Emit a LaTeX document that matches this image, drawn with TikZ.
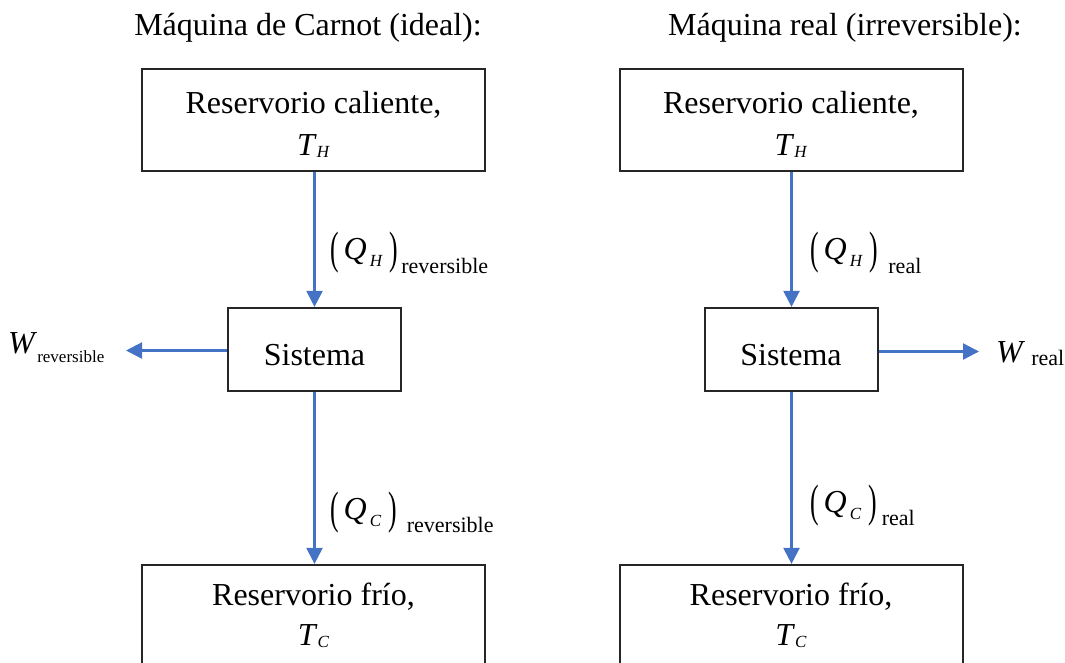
\documentclass[tikz,border=0pt]{standalone}
\usepackage{fontspec}
\setmainfont{Liberation Serif}
\usepackage{graphicx}
\usetikzlibrary{arrows.meta}

\definecolor{flowblue}{HTML}{4472C4}
\definecolor{edgegray}{HTML}{262626}

\newcommand{\mainsz}{\fontsize{32}{38}\selectfont}
\newcommand{\subsz}{\fontsize{17}{20}\selectfont}
\newcommand{\wordsz}{\fontsize{22}{26}\selectfont}

% heat flow label (Q_#1)_#2 ; #3 gap before the word, #4 drop of the word
\newcommand{\heatflux}[4]{%
  \raisebox{-4.5pt}{\scalebox{0.8}[1.42]{(}}\hspace{5pt}%
  \textit{Q}\hspace{3pt}\raisebox{-7pt}{\subsz\textit{#1}}\hspace{7pt}%
  \raisebox{-4.5pt}{\scalebox{0.8}[1.42]{)}}\hspace{#3}%
  \raisebox{-#4}{\wordsz #2}}

\begin{document}
\begin{tikzpicture}[x=1pt,y=-1pt,
  every node/.style={font=\mainsz, inner sep=0pt},
  reservoir/.style={draw=edgegray, line width=2.2pt, minimum width=343pt, minimum height=102pt},
  sysbox/.style={draw=edgegray, line width=2.2pt, minimum width=173pt, minimum height=83pt},
  flow/.style={draw=flowblue, line width=2.2pt, -{Triangle[length=16pt,width=16pt]}},
  txt/.style={anchor=base},
  lab/.style={anchor=base west}]

\clip (0,0) rectangle (1065,662);

% titles
\node[txt] (titleL) at (308,35) {Máquina de Carnot (ideal):};
\node[txt] (titleR) at (845,35) {Máquina real (irreversible):};

% ---------- Carnot engine ----------
\node[reservoir] (hotL) at (313.5,120) {};
\node[txt] (hotLa) at (313.5,113) {Reservorio caliente,};
\node[txt] (hotLb) at (313.5,155) {\textit{T}\raisebox{-2pt}{\subsz\textit{H}}};

\node[sysbox] (sysL) at (314.5,349.5) {};
\node[txt] (sysLt) at (314.5,365) {Sistema};

\node[reservoir] (coldL) at (313.5,616) {};
\node[txt] (coldLa) at (313.5,605) {Reservorio frío,};
\node[txt] (coldLb) at (313.5,645) {\textit{T}\raisebox{-2pt}{\subsz\textit{C}}};

\draw[flow] (hotL.south -| sysL) -- (sysL.north);
\draw[flow] (sysL.south) -- (coldL.north -| sysL);
\coordinate (wL) at (126,350.5);
\draw[flow] (sysL.west |- wL) -- (wL);

\node[lab] (qhL) at (330,259) {\heatflux{H}{reversible}{3pt}{14pt}};
\node[lab] (qcL) at (330,519) {\heatflux{C}{reversible}{10pt}{13pt}};
\node[lab] (wLt) at (8,353) {\textit{W}\raisebox{-9pt}{\subsz reversible}};

% ---------- real engine ----------
\node[reservoir] (hotR) at (791.5,120) {};
\node[txt] (hotRa) at (791,113) {Reservorio caliente,};
\node[txt] (hotRb) at (791,155) {\textit{T}\raisebox{-2pt}{\subsz\textit{H}}};

\node[sysbox] (sysR) at (791.5,349.5) {};
\node[txt] (sysRt) at (791,365) {Sistema};

\node[reservoir] (coldR) at (791.5,616) {};
\node[txt] (coldRa) at (791,605) {Reservorio frío,};
\node[txt] (coldRb) at (791,645) {\textit{T}\raisebox{-2pt}{\subsz\textit{C}}};

\draw[flow] (hotR.south) -- (sysR.north);
\draw[flow] (sysR.south) -- (coldR.north);
\coordinate (wR) at (979,351.5);
\draw[flow] (sysR.east |- wR) -- (wR);

\node[lab] (qhR) at (810,259) {\heatflux{H}{real}{10pt}{14pt}};
\node[lab] (qcR) at (810,512) {\heatflux{C}{real}{5pt}{13pt}};
\node[lab] (wRt) at (996,362) {\textit{W}\hspace{6pt}\raisebox{-3pt}{\wordsz real}};

\end{tikzpicture}
\end{document}
